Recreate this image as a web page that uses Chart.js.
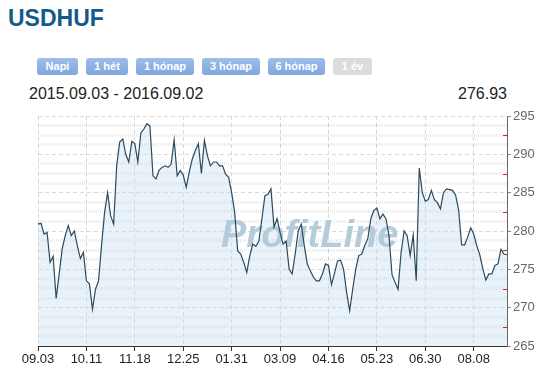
<!DOCTYPE html>
<html>
<head>
<meta charset="utf-8">
<script src="https://cdn.jsdelivr.net/npm/chart.js@4.4.0/dist/chart.umd.min.js"></script>
<style>
  body { margin:0; width:555px; height:383px; background:#fff; position:relative; overflow:hidden;
         font-family:"Liberation Sans", Arial, sans-serif; }
  #title { position:absolute; left:8px; top:7px; font-size:23px; line-height:23px; font-weight:bold; color:#125a8a; }
  .btn { position:absolute; top:58px; height:17px; line-height:17px; font-size:11px; font-weight:bold; color:#fff;
         text-align:center; background:linear-gradient(#9dbeea,#7fa6dd); border-radius:3px; }
  .btn.off { background:#dcdcdc; }
  .info { position:absolute; top:86px; font-size:16px; line-height:16px; color:#222; }
  #wrap { position:absolute; left:0; top:100px; width:555px; height:283px; }
</style>
</head>
<body>
<div id="title">USDHUF</div>
<div class="btn" style="left:37px;width:41px">Napi</div>
<div class="btn" style="left:86px;width:42px">1 hét</div>
<div class="btn" style="left:136px;width:58px">1 hónap</div>
<div class="btn" style="left:202px;width:58px">3 hónap</div>
<div class="btn" style="left:268px;width:57px">6 hónap</div>
<div class="btn off" style="left:333px;width:39px">1 év</div>
<div class="info" id="range" style="left:29px"></div>
<div class="info" id="last" style="right:48px"></div>
<div id="wrap"><canvas id="chart" width="555" height="283"></canvas></div>
<script>
const period = '2015.09.03 - 2016.09.02';
const lastRate = '276.93';
const tickLabels = ['09.03', '10.11', '11.18', '12.25', '01.31', '03.09', '04.16', '05.23', '06.30', '08.08'];
const tickEvery = 16;
const yMin = 265, yMax = 295;

// USD/HUF, roughly every 2-3 days
const rates = [
  280.9, 281.0, 279.6, 279.8, 275.9, 276.7, 271.2, 274.4, 277.7, 279.4,
  280.7, 279.4, 280.0, 278.1, 276.4, 277.2, 273.5, 273.1, 269.8, 272.4,
  273.5, 278.1, 282.4, 285.0, 282.0, 280.9, 288.5, 291.6, 292.0, 290.0,
  289.0, 291.7, 291.4, 289.0, 292.8, 293.3, 294.0, 293.7, 287.2, 286.8,
  287.9, 288.3, 288.5, 288.3, 288.7, 291.9, 287.2, 287.9, 287.3, 285.7,
  287.7, 289.4, 290.5, 291.4, 287.5, 291.8, 289.8, 288.5, 289.0, 289.0,
  288.5, 288.5, 287.4, 287.0, 285.0, 282.4, 277.4, 277.0, 275.9, 274.6,
  276.8, 278.3, 278.0, 278.7, 281.6, 284.6, 284.8, 285.5, 280.5, 281.6,
  279.8, 278.3, 278.7, 275.0, 274.4, 277.0, 280.0, 280.9, 278.1, 275.7,
  274.8, 274.0, 273.5, 273.5, 274.4, 275.7, 275.5, 273.0, 274.5, 276.1,
  276.2, 275.0, 272.0, 269.6, 272.4, 275.0, 276.8, 277.0, 278.1, 279.0,
  281.6, 282.7, 283.0, 281.6, 282.2, 281.6, 279.4, 274.3, 273.3, 272.4,
  277.2, 280.0, 279.4, 276.8, 279.5, 273.5, 288.2, 285.0, 283.9, 284.1,
  285.3, 284.1, 283.7, 282.9, 285.0, 285.5, 285.4, 285.3, 284.7, 282.8,
  278.2, 278.2, 279.2, 280.4, 279.6, 278.1, 276.9, 275.1, 273.6, 274.4,
  274.4, 275.5, 275.7, 277.6, 277.0, 276.9
];

document.getElementById('range').textContent = period;
document.getElementById('last').textContent = lastRate;

const labels = rates.map((v, i) => i % tickEvery === 0 ? (tickLabels[i / tickEvery] || '') : '');

// faded logo behind the line
const watermark = {
  id: 'watermark',
  beforeDatasetsDraw(chart) {
    const { ctx, chartArea: a } = chart;
    ctx.save();
    ctx.font = 'italic bold 38px "Liberation Sans", Arial, sans-serif';
    ctx.fillStyle = '#b4ccda';
    ctx.fillText('ProfitLine', a.left + 183, a.top + 131);
    ctx.restore();
  }
};

// small red ticks halfway between the y labels
const minorTicks = {
  id: 'minorTicks',
  afterDraw(chart) {
    const y = chart.scales.y, ctx = chart.ctx, right = chart.chartArea.right;
    ctx.save();
    ctx.strokeStyle = '#e02020';
    ctx.lineWidth = 1;
    for (let v = yMin + 2.5; v < yMax; v += 5) {
      const py = Math.round(y.getPixelForValue(v)) + 0.5;
      ctx.beginPath();
      ctx.moveTo(right - 4, py);
      ctx.lineTo(right, py);
      ctx.stroke();
    }
    ctx.restore();
  }
};

const isMajor = v => Math.abs(v / 5 - Math.round(v / 5)) < 0.001;

new Chart(document.getElementById('chart'), {
  type: 'line',
  data: {
    labels: labels,
    datasets: [{
      data: rates,
      borderColor: '#2b4a5f',
      borderWidth: 1.2,
      pointRadius: 0,
      tension: 0,
      fill: 'start',
      backgroundColor: 'rgba(200,220,240,0.4)'
    }]
  },
  options: {
    responsive: false,
    animation: false,
    layout: { padding: { left: 38, top: 16, right: 0, bottom: 0 } },
    plugins: {
      legend: { display: false },
      tooltip: { enabled: false },
      filler: { drawTime: 'beforeDatasetsDraw' }
    },
    scales: {
      x: {
        grid: {
          color: c => labels[c.index] ? '#d9d9d9' : 'transparent',
          tickColor: c => labels[c.index] ? '#333' : 'transparent',
          tickLength: 5
        },
        border: { color: '#333', dash: [4, 3] },
        ticks: {
          autoSkip: false, maxRotation: 0, padding: 1, color: '#222',
          font: { size: 13, family: '"Liberation Sans", Arial, sans-serif' },
          callback: (v, i) => labels[i]
        },
        afterFit: s => { s.height = 37; }
      },
      y: {
        position: 'right',
        min: yMin, max: yMax,
        ticks: {
          stepSize: 5, padding: 2, color: '#666',
          font: { size: 13, family: '"Liberation Sans", Arial, sans-serif' }
        },
        grid: { color: '#d9d9d9', tickColor: '#888', tickLength: 4 },
        border: { color: '#666', dash: [4, 3] },
        afterFit: s => { s.width = 48; }
      },
      ym: {
        position: 'right',
        min: yMin, max: yMax,
        ticks: { display: false, stepSize: 1.25 },
        grid: {
          drawTicks: false,
          lineWidth: 3,
          color: c => (c.tick && isMajor(c.tick.value)) ? 'transparent' : 'rgba(0,0,0,0.08)'
        },
        border: { display: false, dash: [1, 1] },
        afterFit: s => { s.width = 0; }
      }
    }
  },
  plugins: [watermark, minorTicks]
});
</script>
</body>
</html>
